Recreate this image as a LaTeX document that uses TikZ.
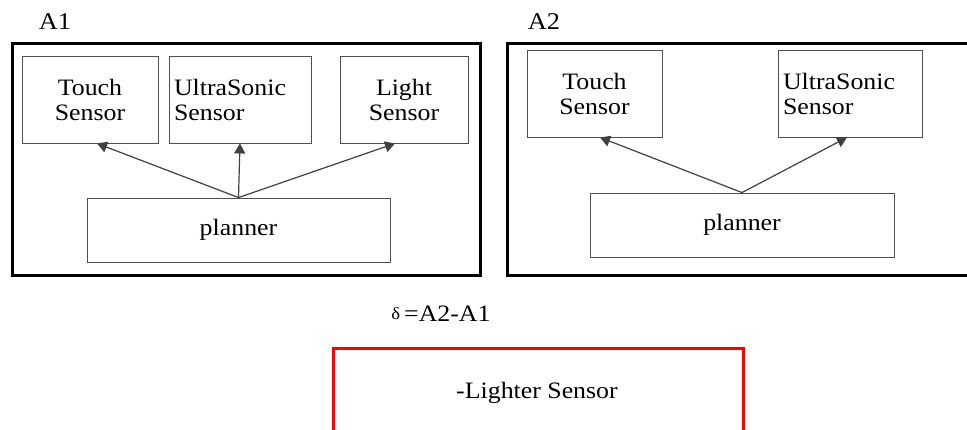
\documentclass[tikz,border=0pt]{standalone}
\usepackage{fontspec}
\setmainfont{Liberation Serif}[FakeStretch=1.1]
\usetikzlibrary{arrows.meta,calc}
\definecolor{edgegray}{HTML}{404040}
\definecolor{boxgray}{HTML}{505050}
\begin{document}
\begin{tikzpicture}[x=1pt,y=-1pt,
  every node/.style={font=\fontsize{23.5}{25}\selectfont},
  box/.style={draw=boxgray, line width=0.9pt, inner sep=0pt, align=center},
  lbox/.style={draw=boxgray, line width=0.9pt, inner sep=5pt, align=left},
  outer/.style={draw=black, line width=3pt},
  conn/.style={draw=edgegray, line width=1.2pt, -{Triangle[length=10pt,width=11pt]}},
  lbl/.style={font=\fontsize{24}{25}\selectfont}
]
\useasboundingbox (0,0) rectangle (967,430);

% ---- A1 ----
\node[lbl] (A1) at (55,22) {A1};
\node[outer, minimum width=468pt, minimum height=232pt, inner sep=0pt] (A1box) at (246,160) {};
\node[box, minimum width=136pt, minimum height=87pt] (t1) at (90,99.5) {Touch\\Sensor};
\node[lbox, text width=132pt, minimum height=87pt] (u1) at (240,99.5) {UltraSonic\\Sensor};
\node[box, minimum width=128pt, minimum height=87pt] (l1) at (404,99.5) {Light\\Sensor};
\node[box, minimum width=303pt, minimum height=64pt] (p1) at (238.5,230) {planner};
\draw[conn] (p1.north) -- ($(t1.south)+(7,0)$);
\draw[conn] (p1.north) -- (u1.south);
\draw[conn] (p1.north) -- ($(l1.south)+(-9,0)$);

% ---- A2 ----
\node[lbl] (A2) at (544,22) {A2};
\draw[black, line width=3pt] (970,44) -- (507,44) -- (507,276) -- (970,276);
\node[box, minimum width=135pt, minimum height=87pt] (t2) at (594.5,93.5) {Touch\\Sensor};
\node[lbox, text width=134pt, minimum height=87pt] (u2) at (850,93.5) {UltraSonic\\Sensor};
\node[box, minimum width=304pt, minimum height=64pt] (p2) at (742,225) {planner};
\draw[conn] (p2.north) -- ($(t2.south)+(5.5,0)$);
\draw[conn] (p2.north) -- ($(u2.south)+(-3,0)$);

% ---- delta ----
\node (delta) at (441,314) {\raisebox{2pt}{\fontsize{17}{20}\selectfont δ}\,=A2-A1};
\draw[red, line width=3pt] (333,434) -- (333,349) -- (743,349) -- (743,434);
\node (diff) at (537,393) {-Lighter Sensor};
\end{tikzpicture}
\end{document}
